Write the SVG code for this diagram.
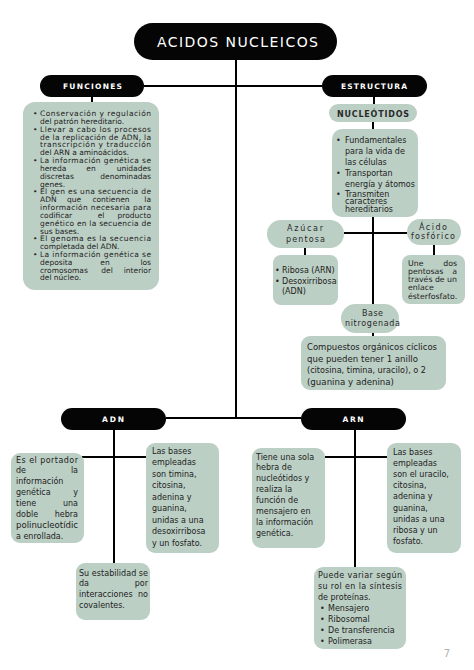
<svg xmlns="http://www.w3.org/2000/svg" width="474" height="670" viewBox="0 0 474 670">
<style>
.bg{fill:#ffffff}
.pill{fill:#050505}
.box{fill:#bccfc5}
.ln{stroke:#000;stroke-width:2;fill:none}
.pt{font-family:"DejaVu Sans","Liberation Sans",sans-serif;fill:#ffffff;text-anchor:middle}
.st{font-family:"DejaVu Sans","Liberation Sans",sans-serif;fill:#2a2a2a;text-anchor:middle;font-size:8px}
.t{font-family:"DejaVu Sans","Liberation Sans",sans-serif;fill:#222;font-size:8px}
.f{font-size:7.5px}
.a{font-size:7.8px}
.c{font-size:9px}
.e{text-anchor:end}
.m{text-anchor:middle}
</style>
<rect class="bg" x="0" y="0" width="474" height="670"/>
<g id="connectors">
<path class="ln" d="M236 60V418"/>
<path class="ln" d="M144 86H322"/>
<path class="ln" d="M92 97V102"/>
<path class="ln" d="M374 97V104"/>
<path class="ln" d="M373 122V129"/>
<path class="ln" d="M373 217V304"/>
<path class="ln" d="M344 233H407"/>
<path class="ln" d="M305 248V255"/>
<path class="ln" d="M434 244V255"/>
<path class="ln" d="M373 333V336"/>
<path class="ln" d="M166 418H301"/>
<path class="ln" d="M114 430V563"/>
<path class="ln" d="M82 457H146"/>
<path class="ln" d="M355 430V567"/>
<path class="ln" d="M325 457H387"/>
</g>
<g id="title">
<rect class="pill" x="134" y="23" width="203" height="37" rx="18.5"/>
<text class="pt" x="237.5" y="46.5" font-size="14" textLength="161" lengthAdjust="spacing">ACIDOS NUCLEICOS</text>
</g>
<g id="funciones">
<rect class="pill" x="40" y="75" width="104" height="22" rx="11"/>
<text class="pt" x="92.5" y="89.3" font-size="7.5" font-weight="bold" textLength="59" lengthAdjust="spacing">FUNCIONES</text>
</g>
<g id="estructura">
<rect class="pill" x="322" y="75" width="105" height="22" rx="11"/>
<text class="pt" x="374" y="89.3" font-size="7.5" font-weight="bold" textLength="66" lengthAdjust="spacing">ESTRUCTURA</text>
</g>
<g id="funciones-texto">
<rect class="box" x="23" y="102" width="136" height="188" rx="12"/>
<text class="t f" x="33" y="116">•</text>
<text class="t f" x="40" y="116" textLength="111" lengthAdjust="spacing">Conservación y regulación</text>
<text class="t f" x="40" y="123.8">del patrón hereditario.</text>
<text class="t f" x="33" y="131.7">•</text>
<text class="t f" x="40" y="131.7" textLength="111" lengthAdjust="spacing">Llevar a cabo los procesos</text>
<text class="t f" x="40" y="139.5" textLength="111" lengthAdjust="spacing">de la replicación de ADN, la</text>
<text class="t f" x="40" y="147.3" textLength="111" lengthAdjust="spacing">transcripción y traducción</text>
<text class="t f" x="40" y="155.2">del ARN a aminoácidos.</text>
<text class="t f" x="33" y="163">•</text>
<text class="t f" x="40" y="163" textLength="111" lengthAdjust="spacing">La información genética se</text>
<text class="t f" x="40" y="170.8">hereda</text><text class="t f m" x="91" y="170.8">en</text><text class="t f e" x="151" y="170.8">unidades</text>
<text class="t f" x="40" y="178.6">discretas</text><text class="t f e" x="151" y="178.6">denominadas</text>
<text class="t f" x="40" y="186.5">genes.</text>
<text class="t f" x="33" y="194.3">•</text>
<text class="t f" x="40" y="194.3" textLength="111" lengthAdjust="spacing">El gen es una secuencia de</text>
<text class="t f" x="40" y="202.1">ADN</text><text class="t f m" x="74" y="202.1">que</text><text class="t f m" x="111" y="202.1">contienen</text><text class="t f e" x="151" y="202.1">la</text>
<text class="t f" x="40" y="210" textLength="111" lengthAdjust="spacing">información necesaria para</text>
<text class="t f" x="40" y="217.8">codificar</text><text class="t f m" x="101" y="217.8">el</text><text class="t f e" x="151" y="217.8">producto</text>
<text class="t f" x="40" y="225.6" textLength="111" lengthAdjust="spacing">genético en la secuencia de</text>
<text class="t f" x="40" y="233.5">sus bases.</text>
<text class="t f" x="33" y="241.3">•</text>
<text class="t f" x="40" y="241.3" textLength="111" lengthAdjust="spacing">El genoma es la secuencia</text>
<text class="t f" x="40" y="249.1">completada del ADN.</text>
<text class="t f" x="33" y="256.9">•</text>
<text class="t f" x="40" y="256.9" textLength="111" lengthAdjust="spacing">La información genética se</text>
<text class="t f" x="40" y="264.8">deposita</text><text class="t f m" x="105" y="264.8">en</text><text class="t f e" x="151" y="264.8">los</text>
<text class="t f" x="40" y="272.6">cromosomas</text><text class="t f m" x="107" y="272.6">del</text><text class="t f e" x="151" y="272.6">interior</text>
<text class="t f" x="40" y="280.4">del núcleo.</text>
</g>
<g id="nucleotidos">
<rect class="box" x="329" y="104" width="88" height="18" rx="9"/>
<text class="st" x="373" y="116.5" font-weight="bold" font-size="7.5" textLength="72" lengthAdjust="spacing">NUCLEÓTIDOS</text>
</g>
<g id="nucleotidos-texto">
<rect class="box" x="332" y="129" width="86" height="88" rx="10"/>
<text class="t" x="336" y="142.5">•</text><text class="t" x="345" y="142.5">Fundamentales</text>
<text class="t" x="345" y="153.5">para la vida de</text>
<text class="t" x="345" y="164.5">las células</text>
<text class="t" x="336" y="175.5">•</text><text class="t" x="345" y="175.5">Transportan</text>
<text class="t" x="345" y="186.5">energía y átomos</text>
<text class="t" x="336" y="196.5">•</text><text class="t" x="345" y="196.5">Transmiten</text>
<text class="t" x="345" y="204.3">caracteres</text>
<text class="t" x="345" y="212">hereditarios</text>
</g>
<g id="azucar">
<rect class="box" x="267" y="220" width="77" height="28" rx="14"/>
<text class="st" x="305" y="230.5" textLength="36" lengthAdjust="spacing">Azúcar</text>
<text class="st" x="305.5" y="241.5" textLength="39" lengthAdjust="spacing">pentosa</text>
</g>
<g id="azucar-texto">
<rect class="box" x="273" y="255" width="65" height="50" rx="8"/>
<text class="t" x="275" y="272.5">•</text><text class="t" x="282" y="272.5">Ribosa (ARN)</text>
<text class="t" x="275" y="283.5">•</text><text class="t" x="282" y="283.5">Desoxirribosa</text>
<text class="t" x="282" y="294">(ADN)</text>
</g>
<g id="acido">
<rect class="box" x="407" y="219" width="54" height="26" rx="13"/>
<text class="st" x="433" y="229.5" textLength="28" lengthAdjust="spacing">Ácido</text>
<text class="st" x="433" y="239" textLength="44" lengthAdjust="spacing">fosfórico</text>
</g>
<g id="acido-texto">
<rect class="box" x="402" y="255" width="63" height="49" rx="8"/>
<text class="t a" x="408" y="265.5">Une</text><text class="t a e" x="457" y="265.5">dos</text>
<text class="t a" x="408" y="274">pentosas</text><text class="t a e" x="457" y="274">a</text>
<text class="t a" x="408" y="282.3" textLength="49" lengthAdjust="spacing">través de un</text>
<text class="t a" x="408" y="290.3">enlace</text>
<text class="t a" x="408" y="298.5">ésterfosfato.</text>
</g>
<g id="base">
<rect class="box" x="341" y="304" width="58" height="29" rx="14.5"/>
<text class="st" x="372.5" y="316" textLength="21" lengthAdjust="spacing">Base</text>
<text class="st" x="372.5" y="325.5" textLength="55" lengthAdjust="spacing">nitrogenada</text>
</g>
<g id="base-texto">
<rect class="box" x="301" y="336" width="145" height="54" rx="9"/>
<text class="t c" x="307" y="350" textLength="130" lengthAdjust="spacingAndGlyphs">Compuestos orgánicos cíclicos</text>
<text class="t c" x="307" y="361.5" textLength="111" lengthAdjust="spacingAndGlyphs">que pueden tener 1 anillo</text>
<text class="t c" x="307" y="373" textLength="119" lengthAdjust="spacingAndGlyphs">(citosina, timina, uracilo), o 2</text>
<text class="t c" x="307" y="384.5" textLength="87" lengthAdjust="spacingAndGlyphs">(guanina y adenina)</text>
</g>
<g id="adn">
<rect class="pill" x="61" y="408" width="105" height="22" rx="11"/>
<text class="pt" x="113" y="421.7" font-size="7.5" font-weight="bold" textLength="22" lengthAdjust="spacing">ADN</text>
</g>
<g id="adn-portador">
<rect class="box" x="11" y="453" width="73" height="90" rx="9"/>
<text class="t" x="16" y="462.5" textLength="62" lengthAdjust="spacing">Es el portador</text>
<text class="t" x="16" y="473.4">de</text><text class="t e" x="78" y="473.4">la</text>
<text class="t" x="16" y="484.3">información</text>
<text class="t" x="16" y="495.2">genética</text><text class="t e" x="78" y="495.2">y</text>
<text class="t" x="16" y="506.1">tiene</text><text class="t e" x="78" y="506.1">una</text>
<text class="t" x="16" y="517">doble</text><text class="t e" x="78" y="517">hebra</text>
<text class="t" x="16" y="527.9" textLength="62" lengthAdjust="spacingAndGlyphs">polinucleotídic</text>
<text class="t" x="16" y="538.8">a enrollada.</text>
</g>
<g id="adn-bases">
<rect class="box" x="146" y="443" width="73" height="110" rx="9"/>
<text class="t" x="152" y="453.5">Las bases</text>
<text class="t" x="152" y="465">empleadas</text>
<text class="t" x="152" y="476.5">son timina,</text>
<text class="t" x="152" y="488">citosina,</text>
<text class="t" x="152" y="499.5">adenina y</text>
<text class="t" x="152" y="511">guanina,</text>
<text class="t" x="152" y="522.5">unidas a una</text>
<text class="t" x="152" y="534">desoxirribosa</text>
<text class="t" x="152" y="545.5">y un fosfato.</text>
</g>
<g id="adn-estabilidad">
<rect class="box" x="76" y="563" width="74" height="57" rx="9"/>
<text class="t" x="79" y="575.5" textLength="69" lengthAdjust="spacing">Su estabilidad se</text>
<text class="t" x="79" y="586.2">da</text><text class="t e" x="148" y="586.2">por</text>
<text class="t" x="79" y="596.9">interacciones</text><text class="t e" x="148" y="596.9">no</text>
<text class="t" x="79" y="607.6">covalentes.</text>
</g>
<g id="arn">
<rect class="pill" x="301" y="408" width="105" height="22" rx="11"/>
<text class="pt" x="353" y="421.7" font-size="7.5" font-weight="bold" textLength="21" lengthAdjust="spacing">ARN</text>
</g>
<g id="arn-hebra">
<rect class="box" x="252" y="448" width="73" height="100" rx="9"/>
<text class="t" x="256" y="459.5">Tiene una sola</text>
<text class="t" x="256" y="470.4">hebra de</text>
<text class="t" x="256" y="481.3">nucleótidos y</text>
<text class="t" x="256" y="492.2">realiza la</text>
<text class="t" x="256" y="503.1">función de</text>
<text class="t" x="256" y="514">mensajero en</text>
<text class="t" x="256" y="524.9">la información</text>
<text class="t" x="256" y="535.8">genética.</text>
</g>
<g id="arn-bases">
<rect class="box" x="387" y="443" width="74" height="110" rx="9"/>
<text class="t" x="393" y="454.5">Las bases</text>
<text class="t" x="393" y="465.7">empleadas</text>
<text class="t" x="393" y="476.9">son el uracilo,</text>
<text class="t" x="393" y="488.1">citosina,</text>
<text class="t" x="393" y="499.3">adenina y</text>
<text class="t" x="393" y="510.5">guanina,</text>
<text class="t" x="393" y="521.7">unidas a una</text>
<text class="t" x="393" y="532.9">ribosa y un</text>
<text class="t" x="393" y="544.1">fosfato.</text>
</g>
<g id="arn-tipos">
<rect class="box" x="314" y="567" width="92" height="82" rx="9"/>
<text class="t" x="318" y="577.5" textLength="84" lengthAdjust="spacing">Puede variar según</text>
<text class="t" x="318" y="588.5" textLength="84" lengthAdjust="spacing">su rol en la síntesis</text>
<text class="t" x="318" y="599.5">de proteínas.</text>
<text class="t" x="320" y="610.5">•</text><text class="t" x="328" y="610.5">Mensajero</text>
<text class="t" x="320" y="621.5">•</text><text class="t" x="328" y="621.5">Ribosomal</text>
<text class="t" x="320" y="632.5">•</text><text class="t" x="328" y="632.5">De transferencia</text>
<text class="t" x="320" y="643.5">•</text><text class="t" x="328" y="643.5">Polimerasa</text>
</g>
<text x="447" y="657" font-family="'DejaVu Sans','Liberation Sans',sans-serif" font-size="10" fill="#b0b0b0" text-anchor="middle">7</text>
</svg>
